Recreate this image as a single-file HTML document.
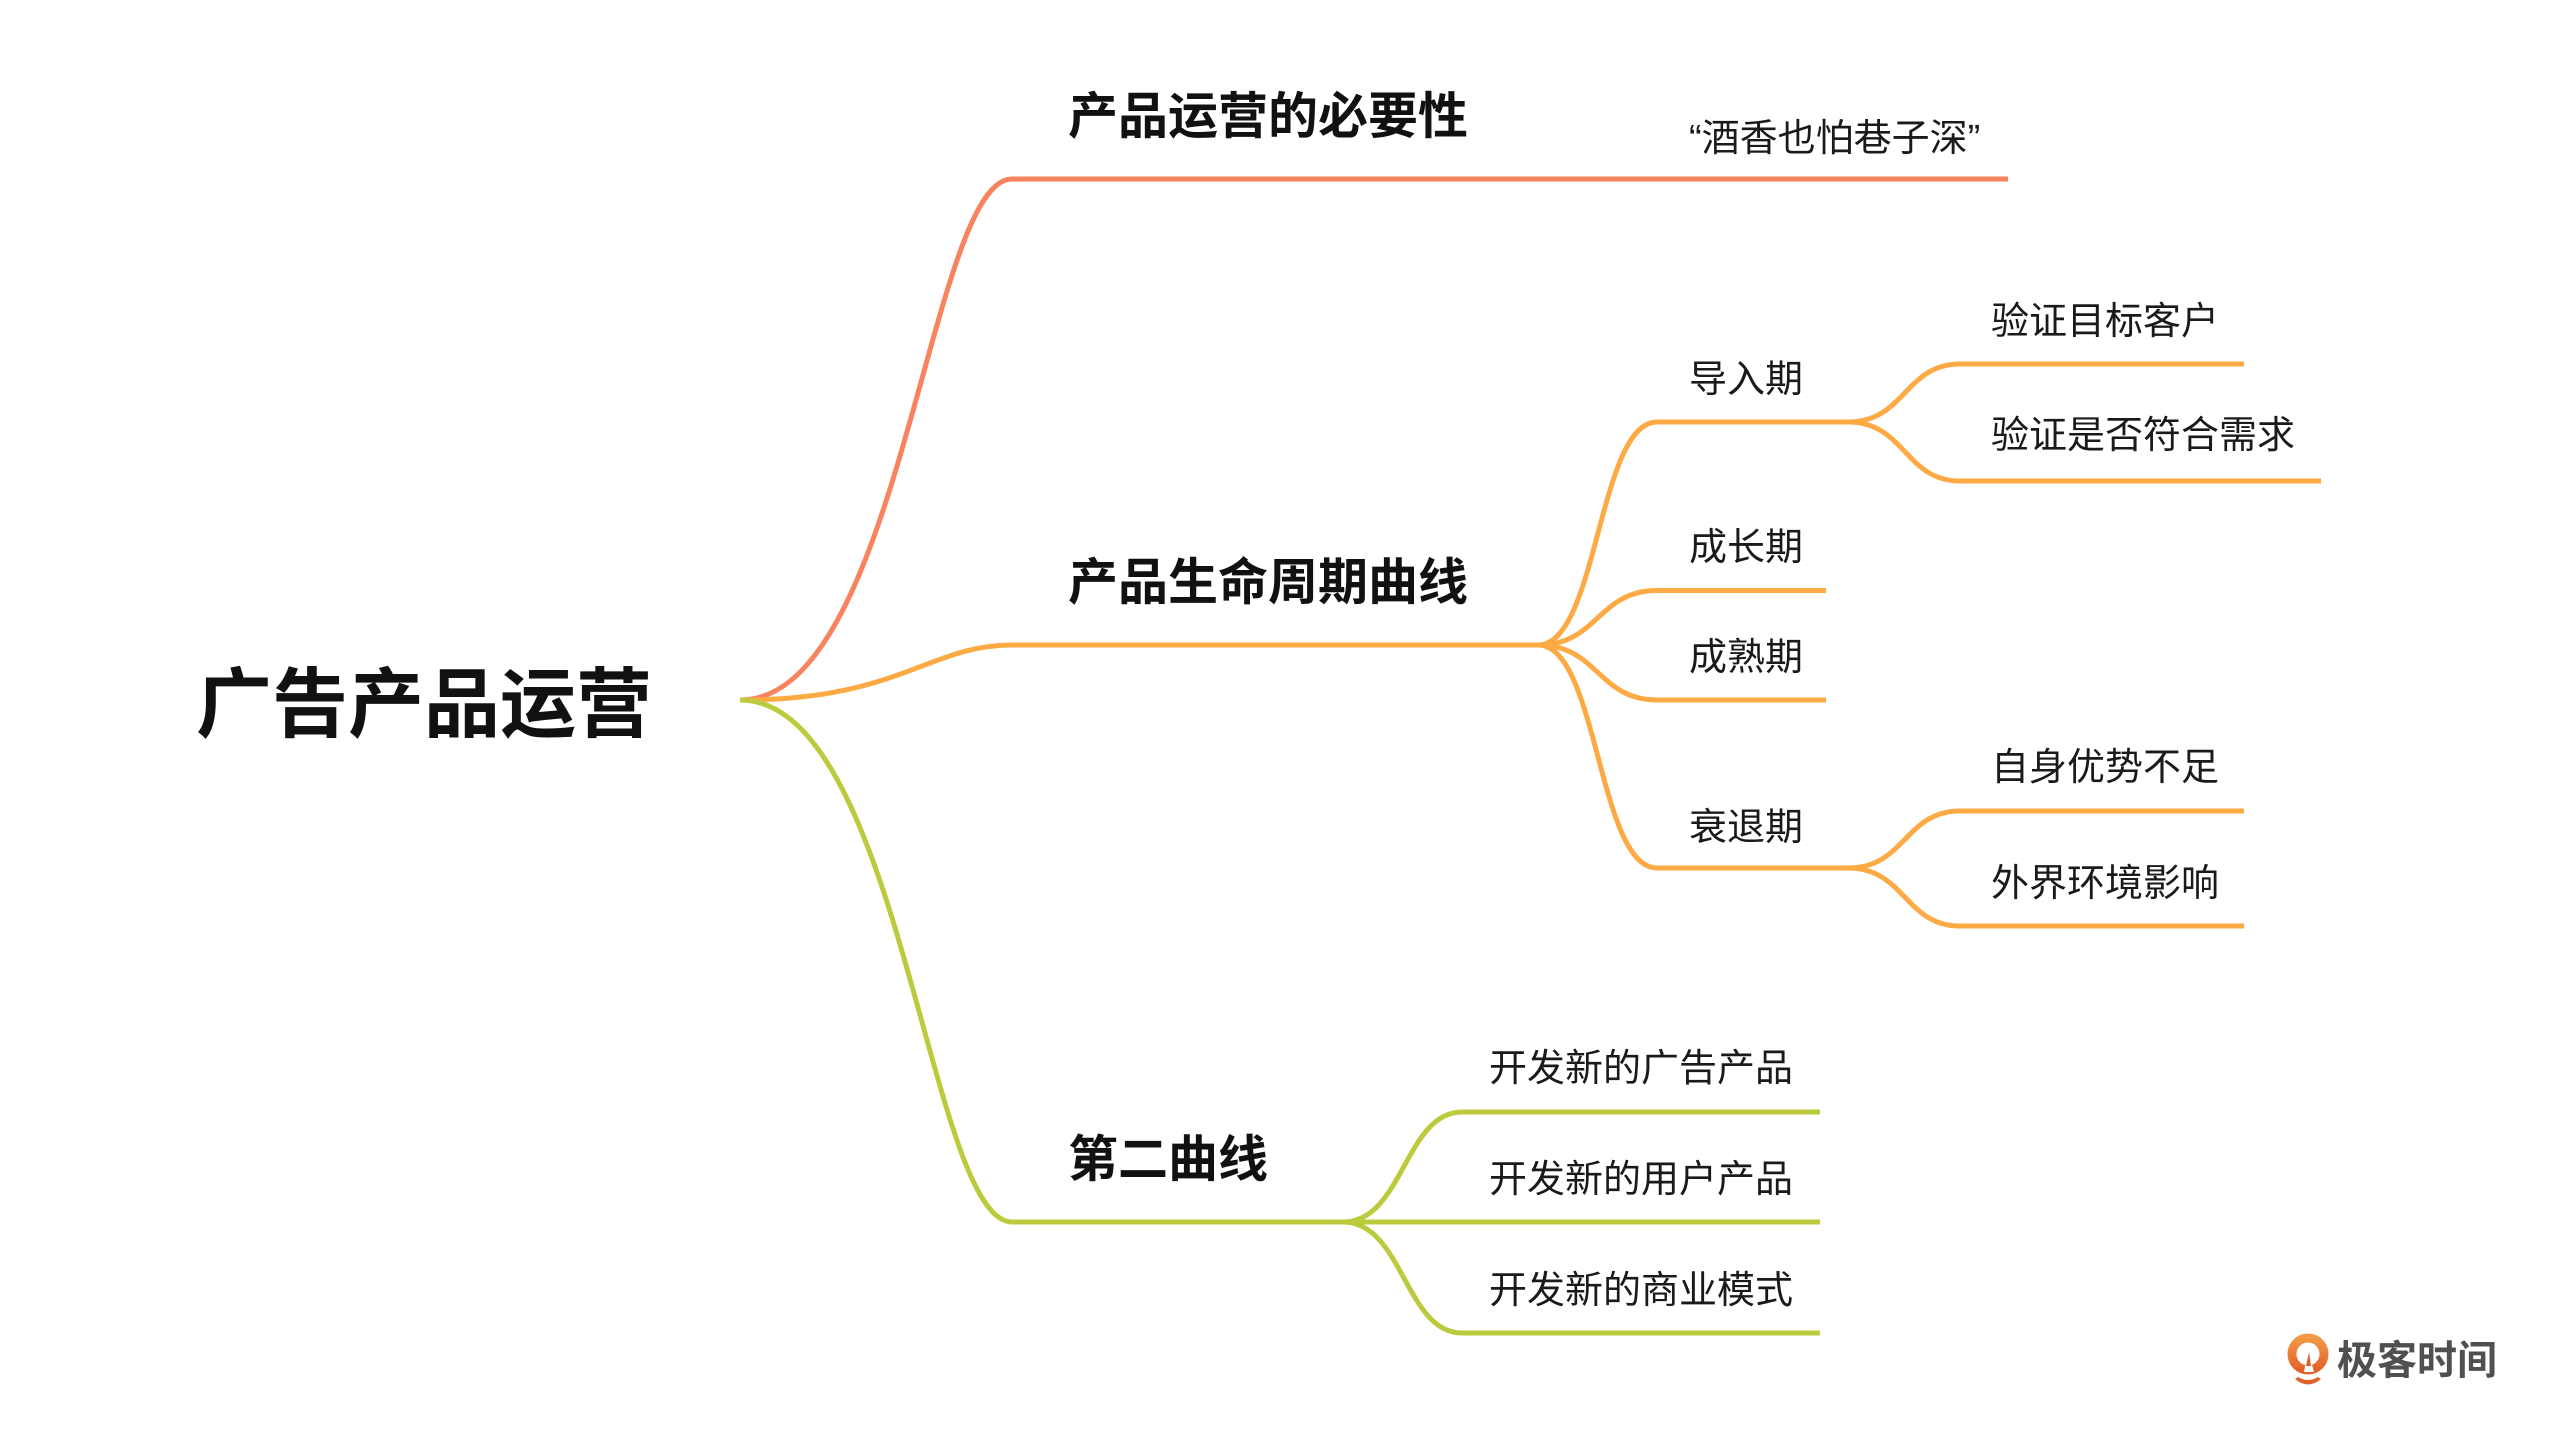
<!DOCTYPE html>
<html>
<head>
<meta charset="utf-8">
<style>
  html,body{margin:0;padding:0;background:#fff;}
  body{width:2550px;height:1430px;overflow:hidden;}
  svg{display:block;}
  text{font-family:"Liberation Sans","Noto Sans CJK SC",sans-serif;}
</style>
</head>
<body>
<svg width="2550" height="1430" viewBox="0 0 2550 1430" xmlns="http://www.w3.org/2000/svg">
  <defs>
    <linearGradient id="lg" x1="0" y1="0" x2="0" y2="1">
      <stop offset="0" stop-color="#F29A45"/>
      <stop offset="1" stop-color="#E0622A"/>
    </linearGradient>
  </defs>
  <rect width="2550" height="1430" fill="#fff"/>

  <g fill="none" stroke-width="5" stroke-linejoin="round" stroke-linecap="butt">
    <!-- red branch -->
    <path stroke="#F9835F" d="M740,700 C900,700 929,179 1012,179 L2008,179"/>
    <!-- orange branch -->
    <path stroke="#FDAA45" d="M740,700 C900,700 929,645 1012,645 L1542,645"/>
    <!-- green branch -->
    <path stroke="#BCCB3D" d="M740,700 C900,700 929,1222 1012,1222 L1347,1222"/>

    <!-- orange sub-branches -->
    <g stroke="#FDAA45">
      <path d="M1538,645 C1598,645 1598,422 1657,422 L1852,422"/>
      <path d="M1538,645 C1598,645 1598,590.5 1657,590.5 L1826,590.5"/>
      <path d="M1538,645 C1598,645 1598,700 1657,700 L1826,700"/>
      <path d="M1538,645 C1598,645 1598,868 1657,868 L1852,868"/>
      <!-- level 3 -->
      <path d="M1848,422 C1905,422 1905,364 1960,364 L2244,364"/>
      <path d="M1848,422 C1905,422 1905,481 1960,481 L2321,481"/>
      <path d="M1848,868 C1905,868 1905,811 1960,811 L2244,811"/>
      <path d="M1848,868 C1905,868 1905,926 1960,926 L2244,926"/>
    </g>

    <!-- green sub-branches -->
    <g stroke="#BCCB3D">
      <path d="M1343,1222 C1403,1222 1405,1112 1462,1112 L1820,1112"/>
      <path d="M1343,1222 L1820,1222"/>
      <path d="M1343,1222 C1403,1222 1405,1333 1462,1333 L1820,1333"/>
    </g>
  </g>

  <!-- root -->
  <text x="196" y="731" font-size="76" font-weight="bold" fill="#111">广告产品运营</text>

  <!-- level 1 -->
  <text x="1068" y="133.5" font-size="50" font-weight="bold" fill="#111">产品运营的必要性</text>
  <text x="1068" y="599.5" font-size="50" font-weight="bold" fill="#111">产品生命周期曲线</text>
  <text x="1068" y="1176.5" font-size="50" font-weight="bold" fill="#111">第二曲线</text>

  <!-- level 2 -->
  <g font-size="38" fill="#1a1a1a">
    <text x="1689" y="151">“酒香也怕巷子深”</text>
    <text x="1689" y="392">导入期</text>
    <text x="1689" y="560">成长期</text>
    <text x="1689" y="670">成熟期</text>
    <text x="1689" y="840">衰退期</text>

    <text x="1991" y="334">验证目标客户</text>
    <text x="1991" y="448">验证是否符合需求</text>
    <text x="1991" y="780">自身优势不足</text>
    <text x="1991" y="896">外界环境影响</text>

    <text x="1489" y="1081">开发新的广告产品</text>
    <text x="1489" y="1192">开发新的用户产品</text>
    <text x="1489" y="1303">开发新的商业模式</text>
  </g>

  <!-- logo -->
  <g>
    <circle cx="2308" cy="1354" r="16" fill="none" stroke="url(#lg)" stroke-width="9"/>
    <path d="M2304,1372 L2308,1350 L2314,1372 Z" fill="#fff"/>
    <path d="M2306,1366 L2309,1352 L2311,1366 Z" fill="#E0622A"/>
    <path d="M2295,1379 Q2308,1390 2321,1379 L2318,1377 Q2308,1383 2298,1377 Z" fill="#E0622A"/>
    <text x="2337" y="1374" font-size="40" font-weight="bold" fill="#505050">极客时间</text>
  </g>
</svg>
</body>
</html>
